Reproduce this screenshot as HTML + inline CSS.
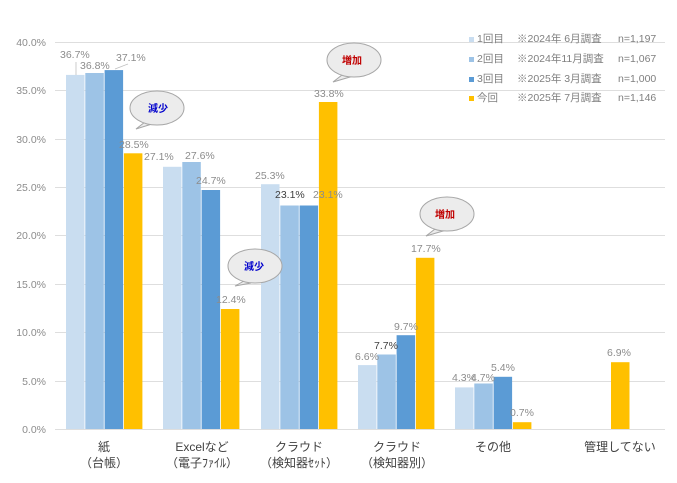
<!DOCTYPE html>
<html><head><meta charset="utf-8"><style>
body{margin:0;background:#fff}
svg{display:block;font-family:"Liberation Sans","Noto Sans CJK JP",sans-serif}
.t{font-size:10.5px;fill:#8c8c8c}
.d{font-size:10.5px;fill:#404040}
.ax{font-size:10.5px;fill:#8c8c8c}
.c{font-size:12px;fill:#404040;text-anchor:middle}
.lg{font-size:10.5px;fill:#7f7f7f}
</style></head><body>
<svg width="677" height="483" viewBox="0 0 677 483">
<g stroke="#dedede" stroke-width="1">
<line x1="55" x2="665" y1="42.5" y2="42.5"/><line x1="55" x2="665" y1="90.5" y2="90.5"/>
<line x1="55" x2="665" y1="139.5" y2="139.5"/><line x1="55" x2="665" y1="187.5" y2="187.5"/>
<line x1="55" x2="665" y1="235.5" y2="235.5"/><line x1="55" x2="665" y1="284.5" y2="284.5"/>
<line x1="55" x2="665" y1="332.5" y2="332.5"/><line x1="55" x2="665" y1="381.5" y2="381.5"/>
<line x1="55" x2="665" y1="429.5" y2="429.5"/>
</g>
<g class="ax" text-anchor="end">
<text x="46" y="46">40.0%</text><text x="46" y="94">35.0%</text><text x="46" y="143">30.0%</text>
<text x="46" y="191">25.0%</text><text x="46" y="239">20.0%</text><text x="46" y="288">15.0%</text>
<text x="46" y="336">10.0%</text><text x="46" y="385">5.0%</text><text x="46" y="433">0.0%</text>
</g>
<g>
<rect x="66" y="74.9" width="18.5" height="354.1" fill="#C9DDF0"/>
<rect x="85.3" y="73" width="18.5" height="356" fill="#9DC3E6"/>
<rect x="104.6" y="70.1" width="18.5" height="358.9" fill="#5B9BD5"/>
<rect x="123.9" y="153.3" width="18.5" height="275.7" fill="#FFC000"/>

<rect x="163" y="166.8" width="18.5" height="262.2" fill="#C9DDF0"/>
<rect x="182.3" y="162" width="18.5" height="267" fill="#9DC3E6"/>
<rect x="201.6" y="190" width="18.5" height="239" fill="#5B9BD5"/>
<rect x="220.9" y="309" width="18.5" height="120" fill="#FFC000"/>

<rect x="261" y="184.2" width="18.5" height="244.8" fill="#C9DDF0"/>
<rect x="280.3" y="205.5" width="18.5" height="223.5" fill="#9DC3E6"/>
<rect x="299.6" y="205.5" width="18.5" height="223.5" fill="#5B9BD5"/>
<rect x="318.9" y="102" width="18.5" height="327" fill="#FFC000"/>

<rect x="358" y="365.1" width="18.5" height="63.9" fill="#C9DDF0"/>
<rect x="377.3" y="354.5" width="18.5" height="74.5" fill="#9DC3E6"/>
<rect x="396.6" y="335.2" width="18.5" height="93.8" fill="#5B9BD5"/>
<rect x="415.9" y="257.8" width="18.5" height="171.2" fill="#FFC000"/>

<rect x="455" y="387.4" width="18.5" height="41.6" fill="#C9DDF0"/>
<rect x="474.3" y="383.5" width="18.5" height="45.5" fill="#9DC3E6"/>
<rect x="493.6" y="376.8" width="18.5" height="52.2" fill="#5B9BD5"/>
<rect x="512.9" y="422.2" width="18.5" height="6.8" fill="#FFC000"/>

<rect x="611" y="362.2" width="18.5" height="66.8" fill="#FFC000"/>
</g>
<g stroke="#bfbfbf" stroke-width="0.8"><line x1="76" y1="62" x2="76" y2="75"/><line x1="115" y1="69" x2="128" y2="64"/></g>
<g class="t">
<text x="60" y="58">36.7%</text><text x="80" y="69">36.8%</text><text x="116" y="61">37.1%</text><text x="119" y="148">28.5%</text>
<text x="144" y="160">27.1%</text><text x="185" y="159">27.6%</text><text x="196" y="184">24.7%</text><text x="216" y="303">12.4%</text>
<text x="255" y="179">25.3%</text><text x="314" y="97">33.8%</text>
<text x="355" y="360">6.6%</text><text x="394" y="330">9.7%</text><text x="411" y="252">17.7%</text>
<text x="452" y="381">4.3%</text><text x="471" y="381">4.7%</text><text x="491" y="371">5.4%</text><text x="510" y="416">0.7%</text>
<text x="607" y="356">6.9%</text>
</g>
<g class="d"><text x="275" y="198">23.1%</text><text x="374" y="349">7.7%</text></g>
<text class="t" x="313" y="198">23.1%</text>
<g stroke="#a6a6a6" stroke-width="1" fill="#ececec">
<path d="M145 122 L136 129 L152 124 Z"/><ellipse cx="157" cy="108" rx="27" ry="17"/>
<path d="M342 75 L333 82 L350 77 Z"/><ellipse cx="354" cy="60" rx="27" ry="17"/>
<path d="M435 229 L426 236 L443 231 Z"/><ellipse cx="447" cy="214" rx="27" ry="17"/>
<path d="M244 281 L235 286 L251 283 Z"/><ellipse cx="255" cy="266" rx="27" ry="17"/>
</g>
<g font-size="10" font-weight="bold" text-anchor="middle">
<text x="158" y="112" fill="#0000cc">減少</text>
<text x="352" y="64" fill="#c00000">増加</text>
<text x="445" y="218" fill="#c00000">増加</text>
<text x="254" y="270" fill="#0000cc">減少</text>
</g>
<rect x="469" y="37" width="5" height="5" fill="#C9DDF0"/>
<rect x="469" y="57" width="5" height="5" fill="#9DC3E6"/>
<rect x="469" y="77" width="5" height="5" fill="#5B9BD5"/>
<rect x="469" y="96" width="5" height="5" fill="#FFC000"/>
<g class="lg">
<text x="477" y="42">1回目</text><text x="517" y="42">※2024年 6月調査</text><text x="618" y="42">n=1,197</text>
<text x="477" y="62">2回目</text><text x="517" y="62">※2024年11月調査</text><text x="618" y="62">n=1,067</text>
<text x="477" y="82">3回目</text><text x="517" y="82">※2025年 3月調査</text><text x="618" y="82">n=1,000</text>
<text x="477" y="101">今回</text><text x="517" y="101">※2025年 7月調査</text><text x="618" y="101">n=1,146</text>
</g>
<text class="c" x="104" y="451">紙</text><text class="c" x="104" y="467">（台帳）</text>
<text class="c" x="202" y="451">Excelなど</text><text class="c" x="202" y="467">（電子ﾌｧｲﾙ）</text>
<text class="c" x="299" y="451">クラウド</text><text class="c" x="299" y="467">（検知器ｾｯﾄ）</text>
<text class="c" x="397" y="451">クラウド</text><text class="c" x="397" y="467">（検知器別）</text>
<text class="c" x="493" y="451">その他</text>
<text class="c" x="620" y="451">管理してない</text>
</svg>
</body></html>
